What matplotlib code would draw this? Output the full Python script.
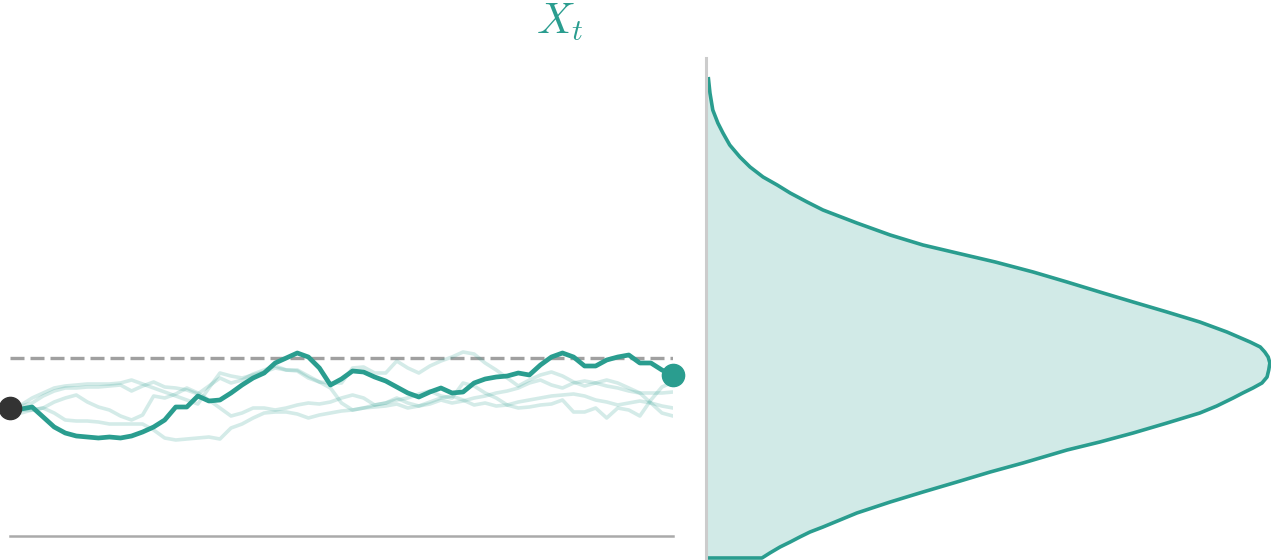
import numpy as np
import matplotlib
matplotlib.use("Agg")
import matplotlib.pyplot as plt

plt.rcParams['mathtext.fontset'] = 'cm'

TEAL = '#2a9d8f'

# simulated paths (value relative to long-run mean, 61 steps)
steps = np.arange(61)
main_path = [-0.50, -0.51, -0.49, -0.59, -0.69, -0.75, -0.78, -0.79, -0.80, -0.79, -0.80,
             -0.78, -0.74, -0.69, -0.62, -0.49, -0.49, -0.38, -0.43, -0.42, -0.35,
             -0.27, -0.20, -0.15, -0.05, 0.00, 0.05, 0.01, -0.10, -0.27, -0.21,
             -0.13, -0.14, -0.19, -0.23, -0.29, -0.35, -0.39, -0.34, -0.30, -0.35,
             -0.34, -0.25, -0.21, -0.19, -0.18, -0.15, -0.17, -0.07, 0.01, 0.05,
             0.01, -0.08, -0.08, -0.02, 0.01, 0.03, -0.05, -0.05, -0.12, -0.17]
faint_1 = [-0.50, -0.47, -0.40, -0.35, -0.30, -0.28, -0.27, -0.26, -0.26, -0.26, -0.25,
           -0.22, -0.26, -0.30, -0.34, -0.38, -0.42, -0.46, -0.30, -0.15, -0.18,
           -0.20, -0.17, -0.14, -0.10, -0.12, -0.12, -0.18, -0.24, -0.30, -0.45,
           -0.52, -0.50, -0.47, -0.45, -0.42, -0.40, -0.36, -0.33, -0.38, -0.40,
           -0.25, -0.28, -0.35, -0.40, -0.47, -0.50, -0.49, -0.47, -0.46, -0.42,
           -0.54, -0.54, -0.50, -0.60, -0.50, -0.52, -0.58, -0.42, -0.29, -0.24]
faint_2 = [-0.50, -0.52, -0.52, -0.50, -0.55, -0.62, -0.63, -0.63, -0.64, -0.66, -0.66,
           -0.66, -0.66, -0.72, -0.80, -0.82, -0.81, -0.80, -0.79, -0.81, -0.70,
           -0.66, -0.60, -0.55, -0.54, -0.54, -0.56, -0.60, -0.57, -0.55, -0.53,
           -0.52, -0.50, -0.49, -0.48, -0.46, -0.50, -0.48, -0.44, -0.40, -0.38,
           -0.42, -0.47, -0.45, -0.48, -0.47, -0.44, -0.42, -0.40, -0.38, -0.37,
           -0.36, -0.38, -0.42, -0.44, -0.47, -0.45, -0.43, -0.45, -0.48, -0.50]
faint_3 = [-0.50, -0.48, -0.45, -0.38, -0.33, -0.30, -0.30, -0.29, -0.29, -0.28, -0.27,
           -0.33, -0.28, -0.24, -0.29, -0.30, -0.32, -0.36, -0.28, -0.20, -0.25,
           -0.22, -0.16, -0.12, -0.08, -0.12, -0.13, -0.20, -0.24, -0.25, -0.25,
           -0.10, -0.09, -0.15, -0.15, -0.03, -0.10, -0.15, -0.08, -0.03, 0.01,
           0.06, 0.04, -0.05, -0.12, -0.20, -0.28, -0.22, -0.17, -0.14, -0.18,
           -0.24, -0.28, -0.25, -0.22, -0.25, -0.30, -0.35, -0.35, -0.35, -0.34]
faint_4 = [-0.50, -0.55, -0.52, -0.50, -0.44, -0.40, -0.37, -0.44, -0.49, -0.52, -0.58,
           -0.62, -0.57, -0.38, -0.40, -0.36, -0.30, -0.35, -0.42, -0.50, -0.58,
           -0.55, -0.50, -0.50, -0.52, -0.50, -0.47, -0.45, -0.46, -0.44, -0.40,
           -0.37, -0.40, -0.47, -0.45, -0.40, -0.45, -0.48, -0.46, -0.42, -0.45,
           -0.43, -0.40, -0.38, -0.35, -0.33, -0.30, -0.25, -0.22, -0.27, -0.30,
           -0.25, -0.23, -0.25, -0.28, -0.30, -0.33, -0.35, -0.45, -0.55, -0.58]
mean_level = 0.0

# stationary density (level, pdf)
dens_level = [-2.00, -1.95, -1.89, -1.84, -1.79, -1.74, -1.69, -1.55, -1.44, -1.34,
              -1.24, -1.14, -1.05, -0.92, -0.84, -0.75, -0.65, -0.55, -0.48, -0.40,
              -0.35, -0.30, -0.25, -0.19, -0.12, -0.05, 0.01, 0.06, 0.11, 0.16,
              0.26, 0.36, 0.46, 0.56, 0.66, 0.76, 0.86, 0.96, 1.05, 1.13,
              1.23, 1.35, 1.48, 1.56, 1.65, 1.73, 1.81, 1.91, 2.01, 2.13,
              2.25, 2.35, 2.48, 2.65, 2.81]
dens_pdf = [0.099, 0.113, 0.131, 0.149, 0.166, 0.184, 0.207, 0.267, 0.326, 0.384,
            0.444, 0.503, 0.561, 0.639, 0.697, 0.756, 0.816, 0.874, 0.904, 0.933,
            0.950, 0.968, 0.984, 0.993, 0.996, 0.998, 0.995, 0.989, 0.981, 0.963,
            0.922, 0.874, 0.816, 0.756, 0.697, 0.639, 0.579, 0.512, 0.444, 0.384,
            0.326, 0.267, 0.207, 0.179, 0.149, 0.126, 0.101, 0.078, 0.060, 0.042,
            0.030, 0.021, 0.012, 0.007, 0.004]

W, H = 1271, 560
fig = plt.figure(figsize=(W / 100, H / 100), dpi=100)

# left: sample paths
ax = fig.add_axes([10 / W, (H - 536) / H, 663 / W, (536 - 58) / H])
for p in [faint_1, faint_2, faint_3, faint_4]:
    ax.plot(steps, p, color=TEAL, alpha=0.2, lw=2.6)
ax.axhline(mean_level, color='#a0a0a0', lw=2.4, dashes=(4.2, 1.8), zorder=1)
ax.plot(steps, main_path, color=TEAL, lw=3.4, zorder=3, solid_joinstyle='round')
ax.plot(steps[0], main_path[0], 'o', color='#333333', ms=16, zorder=4, clip_on=False)
ax.plot(steps[-1], main_path[-1], 'o', color=TEAL, ms=16, zorder=4, clip_on=False)
ax.set_xlim(0, 60)
ax.set_ylim(-1.78, 3.0)
for s in ['top', 'right', 'left']:
    ax.spines[s].set_visible(False)
ax.spines['bottom'].set_color('#aaaaaa')
ax.spines['bottom'].set_linewidth(1.8)
ax.set_xticks([])
ax.set_yticks([])

# right: density
ax2 = fig.add_axes([706 / W, 0, (W - 706) / W, (H - 58) / H])
ax2.fill_betweenx(dens_level, 0, dens_pdf, color=TEAL, alpha=0.21, lw=0)
ax2.plot(np.r_[0, dens_pdf], np.r_[dens_level[0], dens_level], color=TEAL, lw=2.6,
         solid_capstyle='butt', solid_joinstyle='round')
ax2.set_xlim(0, 1.0)
ax2.set_ylim(-2.02, 3.0)
for s in ['top', 'right', 'bottom']:
    ax2.spines[s].set_visible(False)
ax2.spines['left'].set_color('#cccccc')
ax2.spines['left'].set_linewidth(2.2)
ax2.set_xticks([])
ax2.set_yticks([])

fig.text(560 / W, 1 - 34 / H, r'$X_t$', color=TEAL, fontsize=31, ha='center', va='baseline')

fig.savefig('out.png', dpi=100)
